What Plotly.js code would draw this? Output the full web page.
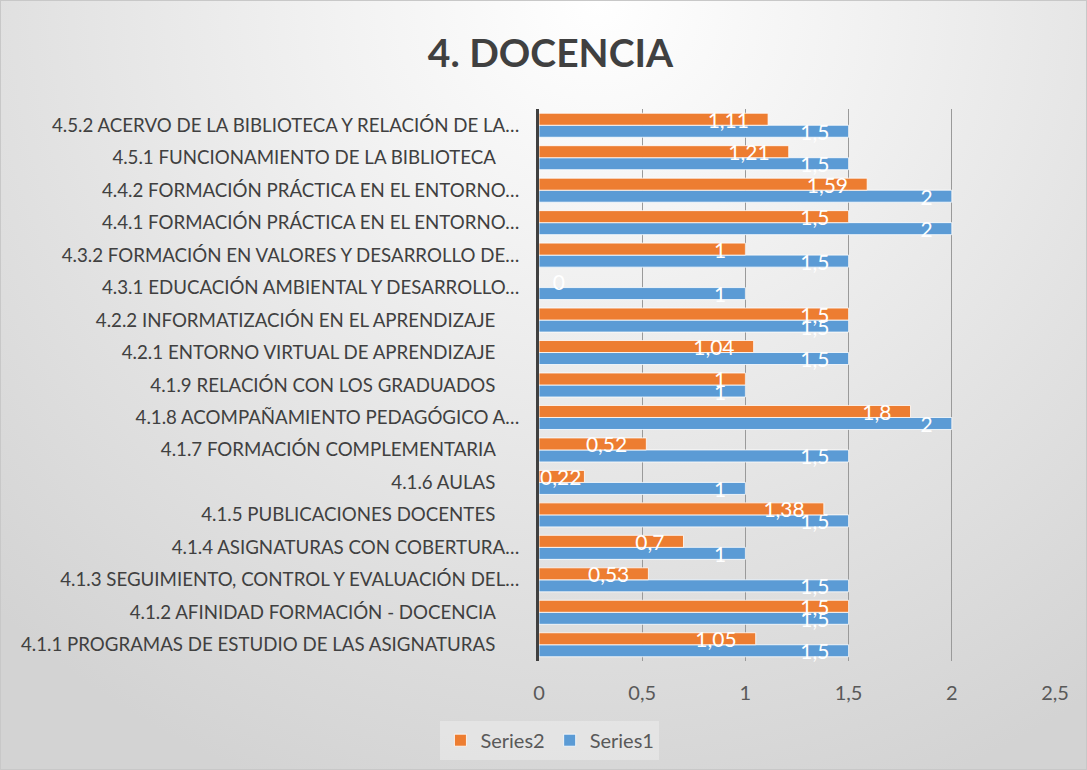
<!DOCTYPE html>
<html>
<head>
<meta charset="utf-8">
<script src="https://cdn.plot.ly/plotly-3.0.1.min.js"></script>
<style>
html,body{margin:0;padding:0;}
#chart{width:1087px;height:770px;box-sizing:border-box;border:1px solid #c8c8c8;
background:radial-gradient(ellipse 80% 110% at 55% 0%,#ffffff 0%,#f2f2f2 30%,#e2e2e2 65%,#d3d3d3 100%);}
</style>
</head>
<body>
<div id="chart"></div>
<script>
var PAD = "\u00a0\u00a0\u00a0\u00a0\u00a0";
var categories = [
  "4.1.1 PROGRAMAS DE ESTUDIO DE LAS ASIGNATURAS" + PAD,
  "4.1.2 AFINIDAD FORMACIÓN - DOCENCIA" + PAD,
  "4.1.3 SEGUIMIENTO, CONTROL Y EVALUACIÓN DEL…",
  "4.1.4 ASIGNATURAS CON COBERTURA…",
  "4.1.5 PUBLICACIONES DOCENTES" + PAD,
  "4.1.6 AULAS" + PAD,
  "4.1.7 FORMACIÓN COMPLEMENTARIA" + PAD,
  "4.1.8 ACOMPAÑAMIENTO PEDAGÓGICO A…",
  "4.1.9 RELACIÓN CON LOS GRADUADOS" + PAD,
  "4.2.1 ENTORNO VIRTUAL DE APRENDIZAJE" + PAD,
  "4.2.2 INFORMATIZACIÓN EN EL APRENDIZAJE" + PAD,
  "4.3.1 EDUCACIÓN AMBIENTAL Y DESARROLLO…",
  "4.3.2 FORMACIÓN EN VALORES Y DESARROLLO DE…",
  "4.4.1 FORMACIÓN PRÁCTICA EN EL ENTORNO…",
  "4.4.2 FORMACIÓN PRÁCTICA EN EL ENTORNO…",
  "4.5.1 FUNCIONAMIENTO DE LA BIBLIOTECA" + PAD,
  "4.5.2 ACERVO DE LA BIBLIOTECA Y RELACIÓN DE LA…"
];
var series1 = [1.5, 1.5, 1.5, 1, 1.5, 1, 1.5, 2, 1, 1.5, 1.5, 1, 1.5, 2, 2, 1.5, 1.5];
var series2 = [1.05, 1.5, 0.53, 0.7, 1.38, 0.22, 0.52, 1.8, 1, 1.04, 1.5, 0, 1, 1.5, 1.59, 1.21, 1.11];
var xTicks = [0, 0.5, 1, 1.5, 2, 2.5];

function fmt(v){ return String(v).replace('.', ','); }
function labels(arr){
  return arr.map(function(v){
    if (v === 0) return '\u00a0\u00a0' + fmt(v);
    if (v < 0.3) return fmt(v);
    return fmt(v) + '\u00a0\u00a0\u00a0';
  });
}
function positions(arr){ return arr.map(function(v){ return v === 0 ? 'outside' : 'inside'; }); }

var font = 'Lato, "Open Sans", sans-serif';

function mk(name, vals, color){
  return {
    type: 'bar', orientation: 'h', name: name,
    y: categories, x: vals,
    marker: {color: color, line: {color: 'rgba(255,255,255,0.8)', width: 1}},
    text: labels(vals), textposition: positions(vals), insidetextanchor: 'end',
    constraintext: 'none', cliponaxis: false,
    textfont: {family: font, size: 21, color: '#ffffff'},
    hoverinfo: 'x+y'
  };
}
var trace1 = mk('Series1', series1, '#5B9BD5');
var trace2 = mk('Series2', series2, '#ED7D31');

var layout = {
  width: 1087, height: 770,
  paper_bgcolor: 'rgba(0,0,0,0)', plot_bgcolor: 'rgba(0,0,0,0)',
  margin: {l: 538, r: 33, t: 108, b: 110},
  separators: ',.',
  barmode: 'group', bargap: 0.26, bargroupgap: 0,
  title: {text: '<b>4. DOCENCIA</b>', x: 0.5055, xref: 'container', y: 0.932, yref: 'container', yanchor: 'middle',
          font: {family: font, size: 39, color: '#404040'}},
  xaxis: {
    range: [0, 2.5], tickvals: xTicks, ticktext: xTicks.map(fmt),
    showgrid: true, gridcolor: '#9a9a9a', gridwidth: 1.3,
    zeroline: false, showline: false, fixedrange: true,
    ticks: '', ticklabelstandoff: 18,
    tickfont: {family: font, size: 20, color: '#595959'}
  },
  yaxis: {
    type: 'category', categoryorder: 'array', categoryarray: categories,
    showgrid: false, zeroline: false,
    showline: true, linecolor: '#404040', linewidth: 3,
    ticks: '', ticklabelstandoff: 13, fixedrange: true,
    tickfont: {family: font, size: 18.7, color: '#404040'}
  },
  showlegend: true,
  legend: {
    orientation: 'h', traceorder: 'reversed',
    xref: 'container', yref: 'container', x: 0.505, y: 0.04, xanchor: 'center', yanchor: 'middle',
    bgcolor: 'rgba(255,255,255,0.3)', borderwidth: 0,
    font: {family: font, size: 20, color: '#595959'},
    itemwidth: 30
  }
};

Plotly.newPlot('chart', [trace1, trace2], layout, {displayModeBar: false, staticPlot: true});
</script>
</body>
</html>
